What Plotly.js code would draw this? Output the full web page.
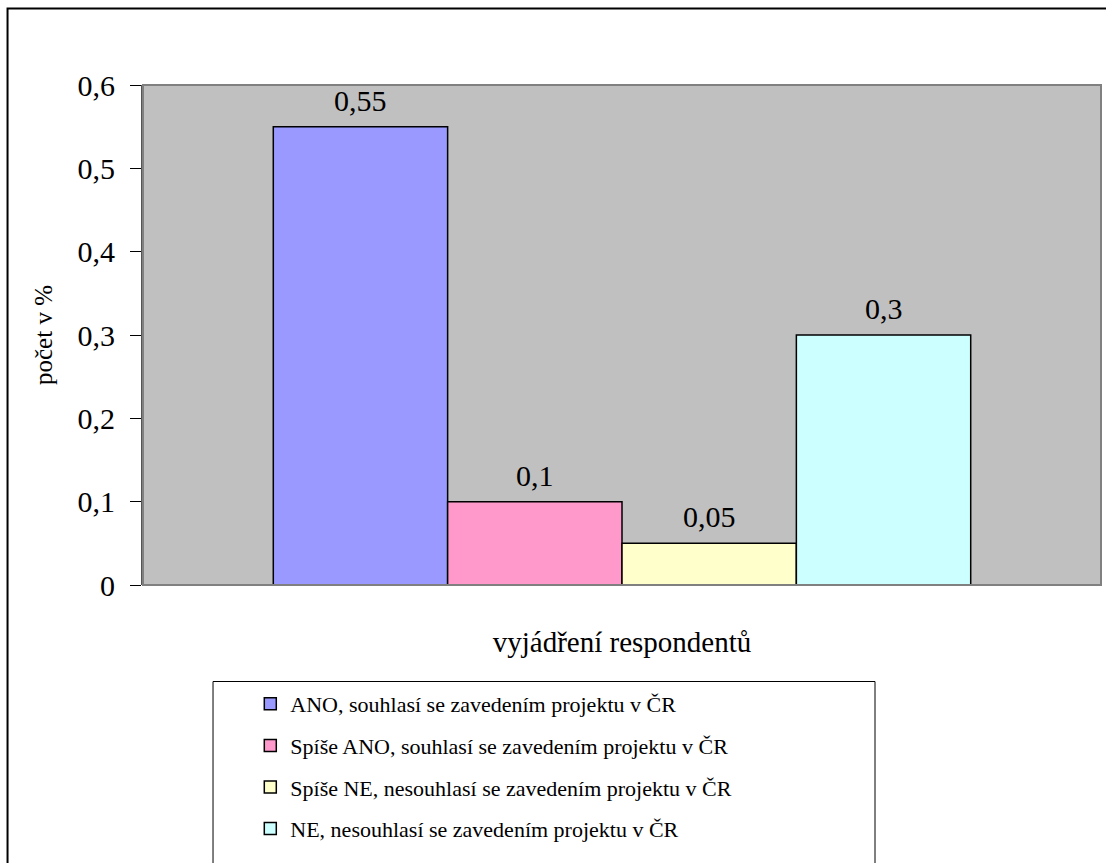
<!DOCTYPE html>
<html>
<head>
<meta charset="utf-8">
<script src="https://cdn.plot.ly/plotly-3.0.1.min.js"></script>
<style>html,body{margin:0;padding:0;background:#fff;}#chart{width:1106px;height:863px;}</style>
</head>
<body>
<div id="chart"></div>
<script>
const seriesNames = [
  "ANO, souhlasí se zavedením projektu v ČR",
  "Spíše ANO, souhlasí se zavedením projektu v ČR",
  "Spíše NE, nesouhlasí se zavedením projektu v ČR",
  "NE, nesouhlasí se zavedením projektu v ČR"
];
const seriesValues = [0.55, 0.1, 0.05, 0.3];
const valueLabels = ["0,55", "0,1", "0,05", "0,3"];
const seriesColors = ["#9999FF", "#FF99CC", "#FFFFCC", "#CCFFFF"];
const category = ["vyjádření respondentů"];
const yTickVals = [0, 0.1, 0.2, 0.3, 0.4, 0.5, 0.6];
const yTickText = ["0", "0,1", "0,2", "0,3", "0,4", "0,5", "0,6"];

const FONT = "Liberation Serif";
const BARGAP = 0.272;
const nSeries = seriesNames.length;
const barW = (1 - BARGAP) / nSeries;

const traces = seriesNames.map((name, i) => ({
  type: "bar",
  name: name,
  x: [0],
  y: [seriesValues[i]],
  marker: {color: seriesColors[i], line: {color: "#000", width: 1.5}},
  legendgroup: "g" + i,
  hoverinfo: "skip"
}));

const annotations = seriesValues.map((v, i) => ({
  xref: "x", yref: "y",
  x: (i - (nSeries - 1) / 2) * barW,
  y: v,
  text: valueLabels[i],
  showarrow: false,
  yanchor: "bottom",
  yshift: 8,
  font: {family: FONT, size: 30, color: "#000"}
}));

const layout = {
  width: 1106,
  height: 863,
  margin: {l: 143, r: 5, t: 85, b: 278, pad: 0},
  paper_bgcolor: "#ffffff",
  plot_bgcolor: "#C0C0C0",
  barmode: "group",
  bargap: BARGAP,
  bargroupgap: 0,
  separators: ", ",
  showlegend: true,
  font: {family: FONT, color: "#000"},
  xaxis: {
    range: [-0.5, 0.5],
    showticklabels: false,
    ticks: "",
    showgrid: false,
    zeroline: false,
    showline: false,
    title: {text: category[0], font: {family: FONT, size: 29, color: "#000"}, standoff: 46}
  },
  yaxis: {
    range: [0, 0.6],
    tickvals: yTickVals,
    ticktext: yTickText,
    ticks: "outside",
    ticklen: 11,
    tickcolor: "#000",
    tickwidth: 1,
    ticklabelstandoff: 9,
    showgrid: false,
    zeroline: false,
    showline: true,
    linecolor: "#555",
    linewidth: 2,
    tickfont: {family: FONT, size: 30, color: "#000"},
    title: {text: "počet v %", font: {family: FONT, size: 25, color: "#000"}, standoff: 18}
  },
  legend: {
    x: 0.112,
    xanchor: "left",
    y: -0.196,
    yanchor: "top",
    bgcolor: "rgba(0,0,0,0)",
    borderwidth: 0,
    traceorder: "grouped",
    tracegroupgap: 10,
    font: {family: FONT, size: 22, color: "#000"}
  },
  annotations: annotations,
  shapes: [
    {type: "rect", xref: "paper", yref: "paper", x0: 0, x1: 1, y0: 0, y1: 1,
     line: {color: "#808080", width: 2}, fillcolor: "rgba(0,0,0,0)", layer: "above"},
    {type: "rect", xref: "paper", yref: "paper", x0: -0.1414, x1: 1.03, y0: -0.6, y1: 1.153,
     line: {color: "#000", width: 2}, fillcolor: "rgba(0,0,0,0)"},
    {type: "rect", xref: "paper", yref: "paper", x0: 0.0731, x1: 0.7641, y0: -0.7, y1: -0.193,
     line: {color: "#000", width: 1}, fillcolor: "rgba(0,0,0,0)"}
  ]
};

Plotly.newPlot("chart", traces, layout, {displayModeBar: false, staticPlot: true});
</script>
</body>
</html>
